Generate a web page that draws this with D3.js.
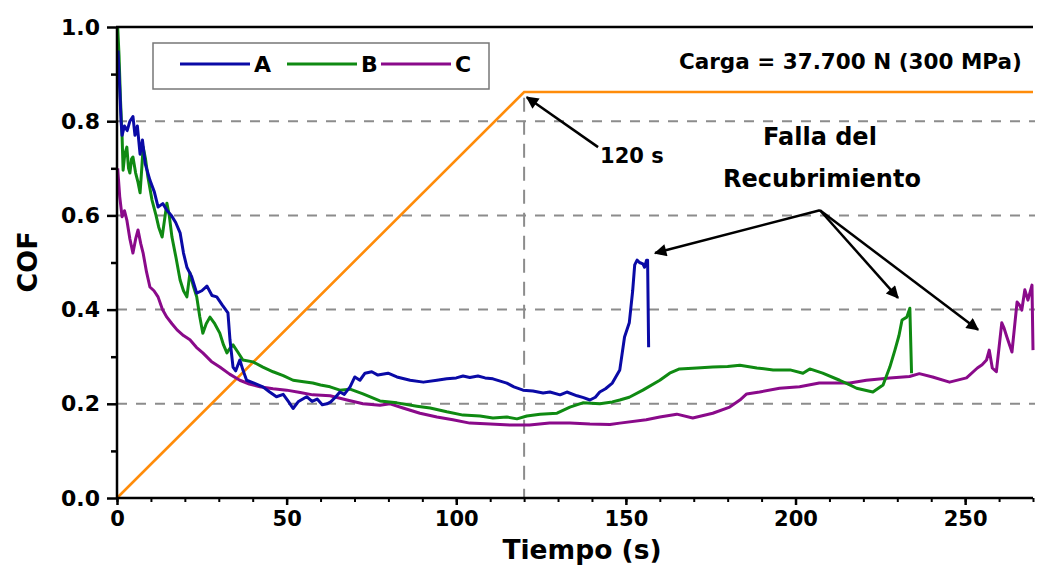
<!DOCTYPE html>
<html>
<head>
<meta charset="utf-8">
<script src="https://cdn.jsdelivr.net/npm/d3@7"></script>
<style>
  body { margin: 0; background: #fff; }
  svg text { font-family: "DejaVu Sans", sans-serif; font-weight: 700; fill: #000; }
</style>
</head>
<body>
<div id="chart"></div>
<script>
// Data: [time (s), COF]
const seriesA = [[0.3,0.95],[0.8,0.87],[1.2,0.80],[1.5,0.77],[2.2,0.79],[3.0,0.78],[3.8,0.80],[4.7,0.81],[5.3,0.77],[6.0,0.79],[6.8,0.73],[7.5,0.76],[8.3,0.71],[9.7,0.675],[11,0.65],[12.1,0.618],[13.5,0.625],[14.7,0.611],[16,0.60],[17.3,0.585],[18.6,0.563],[19.6,0.52],[20.6,0.49],[22,0.47],[23.5,0.435],[25,0.44],[26.5,0.45],[28,0.43],[29.4,0.427],[31,0.41],[32.7,0.393],[33.3,0.336],[34.2,0.278],[35,0.27],[36.2,0.293],[37.2,0.27],[38.2,0.25],[40,0.245],[43,0.236],[45,0.225],[47,0.215],[49,0.22],[50.5,0.205],[51.9,0.19],[53.5,0.205],[55.9,0.215],[57.5,0.205],[59,0.21],[60.5,0.198],[61.9,0.2],[63,0.204],[64.5,0.215],[65.7,0.225],[67,0.22],[68.7,0.236],[70.1,0.257],[71.6,0.25],[73.1,0.265],[75.1,0.268],[76.9,0.261],[79.9,0.265],[82.5,0.257],[86.4,0.25],[90.3,0.246],[94.3,0.25],[97.2,0.253],[100,0.255],[102,0.259],[104,0.256],[106.4,0.259],[108.5,0.255],[110.8,0.253],[114.9,0.244],[117,0.236],[119.7,0.229],[122.6,0.227],[125.6,0.223],[127.6,0.225],[130.6,0.219],[132.6,0.225],[135.6,0.217],[137.5,0.213],[139.4,0.208],[141,0.214],[142.3,0.225],[144,0.232],[146,0.244],[148.2,0.272],[149.6,0.342],[151,0.372],[152,0.44],[152.6,0.495],[153.3,0.505],[154,0.5],[155,0.497],[155.5,0.49],[156.1,0.505],[156.4,0.505],[156.7,0.32]];

const seriesB = [[0.2,1.0],[0.6,0.94],[1.0,0.85],[1.5,0.767],[1.8,0.696],[2.3,0.73],[2.9,0.745],[3.4,0.70],[3.8,0.69],[4.3,0.72],[4.7,0.724],[5.5,0.69],[6.2,0.67],[6.8,0.648],[7.3,0.70],[7.7,0.745],[8.4,0.72],[9.1,0.682],[10.3,0.633],[11.5,0.60],[12.3,0.575],[13.3,0.554],[14,0.59],[14.7,0.626],[15.4,0.60],[16.2,0.554],[17.4,0.51],[18.6,0.463],[19.6,0.44],[20.6,0.427],[21.5,0.478],[22.5,0.45],[23.5,0.427],[24.4,0.385],[25.3,0.35],[26.3,0.37],[27.4,0.384],[28.8,0.37],[30.3,0.35],[31.4,0.325],[32.4,0.308],[33.3,0.318],[34.2,0.325],[35.6,0.31],[37.1,0.293],[40.1,0.289],[43,0.278],[46,0.268],[49,0.26],[51.9,0.25],[55,0.247],[57.7,0.244],[60,0.24],[62.8,0.236],[65.7,0.229],[68.7,0.231],[72.5,0.221],[77.5,0.206],[82.5,0.202],[88.4,0.195],[92.3,0.191],[97.2,0.183],[102,0.176],[107,0.174],[110.8,0.17],[114.9,0.172],[117.9,0.168],[120.8,0.174],[124.7,0.178],[129.7,0.18],[133.5,0.193],[137.3,0.202],[142.3,0.2],[146,0.204],[148.2,0.208],[151,0.214],[155,0.229],[160,0.25],[162.9,0.265],[165.8,0.274],[170.9,0.276],[175.6,0.278],[180,0.279],[183.6,0.282],[188.6,0.276],[193.4,0.272],[198.4,0.272],[202.2,0.265],[204.2,0.274],[208,0.265],[213,0.25],[216,0.24],[218,0.233],[222.8,0.225],[225.8,0.24],[227.8,0.278],[229.3,0.314],[230.5,0.345],[231.4,0.378],[232.8,0.384],[233.7,0.403],[234.2,0.265]];

const seriesC = [[0.2,0.70],[0.8,0.64],[1.5,0.597],[2.2,0.61],[2.9,0.59],[3.8,0.55],[4.7,0.52],[5.5,0.55],[6.2,0.569],[7.0,0.54],[7.7,0.52],[8.7,0.48],[9.7,0.448],[10.9,0.44],[12.1,0.427],[13.4,0.40],[14.7,0.384],[16.2,0.37],[17.7,0.357],[19.6,0.345],[21.5,0.336],[23.4,0.32],[25.3,0.308],[27.8,0.29],[30.3,0.278],[33.2,0.263],[36.2,0.25],[39,0.242],[42.1,0.236],[46,0.232],[50,0.229],[54,0.224],[57.7,0.219],[62.8,0.217],[67.8,0.208],[72.5,0.2],[77.5,0.197],[80.5,0.2],[84.3,0.191],[89.3,0.18],[94.3,0.172],[99,0.166],[104,0.159],[110,0.157],[115.8,0.155],[121.6,0.155],[127.5,0.159],[133.5,0.159],[139.4,0.157],[145.3,0.156],[148.2,0.159],[156,0.166],[160,0.172],[165,0.178],[169.7,0.17],[175.6,0.18],[180.6,0.193],[183.6,0.208],[185.6,0.221],[189.4,0.225],[195.3,0.233],[201.2,0.236],[207,0.244],[213,0.244],[216,0.244],[220.9,0.25],[227.8,0.255],[233.6,0.258],[236.5,0.264],[240.4,0.257],[245.4,0.246],[250.4,0.255],[253.6,0.276],[255,0.283],[256.3,0.293],[257.1,0.314],[258,0.276],[259.2,0.268],[260.8,0.372],[261.5,0.36],[262.3,0.342],[263.8,0.31],[265.3,0.416],[266,0.41],[266.7,0.399],[267.6,0.442],[268.5,0.42],[269.7,0.452],[270,0.314]];

// Load ramp (drawn on the COF scale)
const loadTime = [0, 120, 270];
const loadLevel = [0, 0.862, 0.862];

const seriesNames = ["A", "B", "C"];
const seriesColors = ["#0a0aa6", "#0f8a12", "#8a0a8a"];
const yTicks = [0, 0.2, 0.4, 0.6, 0.8, 1.0];
const yGrid = [0.2, 0.4, 0.6, 0.8];
const xTicks = [0, 50, 100, 150, 200, 250];
const markTime = 120;

// Set the dimensions of the canvas / graph
let margin = { top: 27, right: 8, bottom: 69, left: 117 },
  width = 1041 - margin.left - margin.right,
  height = 567 - margin.top - margin.bottom;

let plotW = 916;

// Set the ranges
let x = d3.scaleLinear().domain([0, 270]).range([0, plotW]);
let y = d3.scaleLinear().domain([0, 1]).range([height, 0]);

var svg = d3
  .select("#chart")
  .append("svg")
  .attr("width", 1041)
  .attr("height", 567)
  .append("g")
  .attr("transform", "translate(" + margin.left + "," + margin.top + ")");

// Dashed grid lines
svg
  .selectAll(".grid")
  .data(yGrid)
  .enter()
  .append("line")
  .attr("x1", 0)
  .attr("x2", plotW + 2)
  .attr("y1", d => y(d))
  .attr("y2", d => y(d))
  .attr("stroke", "#8c8c8c")
  .attr("stroke-width", 2)
  .attr("stroke-dasharray", "10,9");

// Vertical marker at 120 s
svg
  .append("line")
  .attr("x1", x(markTime))
  .attr("x2", x(markTime))
  .attr("y1", y(0.85))
  .attr("y2", y(0))
  .attr("stroke", "#8c8c8c")
  .attr("stroke-width", 2)
  .attr("stroke-dasharray", "14,9");

// Load line
let loadData = loadTime.map((t, i) => [t, loadLevel[i]]);
svg
  .append("path")
  .datum(loadData)
  .attr("fill", "none")
  .attr("stroke", "#ff8c0a")
  .attr("stroke-width", 2.6)
  .attr("d", d3.line().x(d => x(d[0])).y(d => y(d[1])));

// COF lines
let valueline = d3
  .line()
  .x(function(d) {
    return x(d[0]);
  })
  .y(function(d) {
    return y(d[1]);
  });

[seriesC, seriesB, seriesA].forEach(function(s, i) {
  svg
    .append("path")
    .datum(s)
    .attr("fill", "none")
    .attr("stroke", seriesColors[2 - i])
    .attr("stroke-width", 3)
    .attr("stroke-linejoin", "round")
    .attr("d", valueline);
});

// Add the X Axis (minor then major)
svg
  .append("g")
  .attr("transform", "translate(0," + height + ")")
  .call(d3.axisBottom(x).tickValues(d3.range(0, 271, 10)).tickSize(4).tickFormat(""))
  .call(g => g.select(".domain").remove())
  .selectAll("line").attr("stroke-width", 2);

let xg = svg
  .append("g")
  .attr("transform", "translate(0," + height + ")")
  .call(d3.axisBottom(x).tickValues(xTicks).tickSizeInner(7).tickSizeOuter(0).tickPadding(6));
xg.select(".domain").remove();
xg.selectAll("line").attr("stroke-width", 2.5);
xg.selectAll("text").style("font-size", "21px");

// Add the Y Axis (minor then major)
svg
  .append("g")
  .call(d3.axisLeft(y).tickValues([0.1, 0.3, 0.5, 0.7, 0.9]).tickSize(6).tickFormat(""))
  .call(g => g.select(".domain").remove())
  .selectAll("line").attr("stroke-width", 2.5);

let yg = svg
  .append("g")
  .call(d3.axisLeft(y).tickValues(yTicks).tickSizeInner(10).tickSizeOuter(0).tickPadding(7).tickFormat(d3.format(".1f")));
yg.select(".domain").remove();
yg.selectAll("line").attr("stroke-width", 2.5);
yg.selectAll("text").style("font-size", "22px");

// Frame lines: left, bottom, top
svg.append("line").attr("x1", 0).attr("x2", 0).attr("y1", 0).attr("y2", height)
  .attr("stroke", "#000").attr("stroke-width", 2.5);
svg.append("line").attr("x1", -1).attr("x2", width).attr("y1", height).attr("y2", height)
  .attr("stroke", "#000").attr("stroke-width", 2.5);
svg.append("line").attr("x1", -1).attr("x2", width).attr("y1", 0).attr("y2", 0)
  .attr("stroke", "#000").attr("stroke-width", 2.5);

// Axis labels
svg
  .append("text")
  .attr("x", 465)
  .attr("y", height + 61)
  .style("text-anchor", "middle")
  .style("font-size", "26.5px")
  .text("Tiempo (s)");

svg
  .append("text")
  .attr("transform", "rotate(-90)")
  .attr("x", 0 - 235)
  .attr("y", -80)
  .style("text-anchor", "middle")
  .style("font-size", "27px")
  .text("COF");

// Legend
let legend = svg.append("g").attr("transform", "translate(36,16)");
legend
  .append("rect")
  .attr("width", 336)
  .attr("height", 46)
  .attr("fill", "#fff")
  .attr("stroke", "#777")
  .attr("stroke-width", 1.5);
let legX = [27, 134, 228];
seriesNames.forEach(function(n, i) {
  legend
    .append("line")
    .attr("x1", legX[i])
    .attr("x2", legX[i] + 70)
    .attr("y1", 21)
    .attr("y2", 21)
    .attr("stroke", seriesColors[i])
    .attr("stroke-width", 3);
  legend
    .append("text")
    .attr("x", legX[i] + 74)
    .attr("y", 29)
    .style("font-size", "22px")
    .text(n);
});

// Annotations
svg
  .append("text")
  .attr("x", x(266.7))
  .attr("y", y(0.91))
  .style("text-anchor", "end")
  .style("font-size", "21.5px")
  .text("Carga = 37.700 N (300 MPa)");

svg
  .append("defs")
  .append("marker")
  .attr("id", "head")
  .attr("viewBox", "0 0 10 10")
  .attr("refX", 9)
  .attr("refY", 5)
  .attr("markerWidth", 6)
  .attr("markerHeight", 5)
  .attr("orient", "auto")
  .attr("markerUnits", "strokeWidth")
  .append("path")
  .attr("d", "M0,0 L10,5 L0,10 z")
  .attr("fill", "#000");

let arrows = [
  [[141.8, 0.745], [120.8, 0.851]],
  [[207.2, 0.611], [158.6, 0.52]],
  [[207.2, 0.611], [230.2, 0.425]],
  [[207.2, 0.611], [253.8, 0.357]]
];
arrows.forEach(function(a) {
  svg
    .append("line")
    .attr("x1", x(a[0][0]))
    .attr("y1", y(a[0][1]))
    .attr("x2", x(a[1][0]))
    .attr("y2", y(a[1][1]))
    .attr("stroke", "#000")
    .attr("stroke-width", 2.5)
    .attr("marker-end", "url(#head)");
});

svg
  .append("text")
  .attr("x", x(142.4))
  .attr("y", y(0.712))
  .style("font-size", "21px")
  .text("120 s");

svg
  .append("text")
  .attr("x", x(207.2))
  .attr("y", y(0.75))
  .style("text-anchor", "middle")
  .style("font-size", "24px")
  .text("Falla del");

svg
  .append("text")
  .attr("x", x(207.8))
  .attr("y", y(0.66))
  .style("text-anchor", "middle")
  .style("font-size", "24px")
  .text("Recubrimiento");
</script>
</body>
</html>
